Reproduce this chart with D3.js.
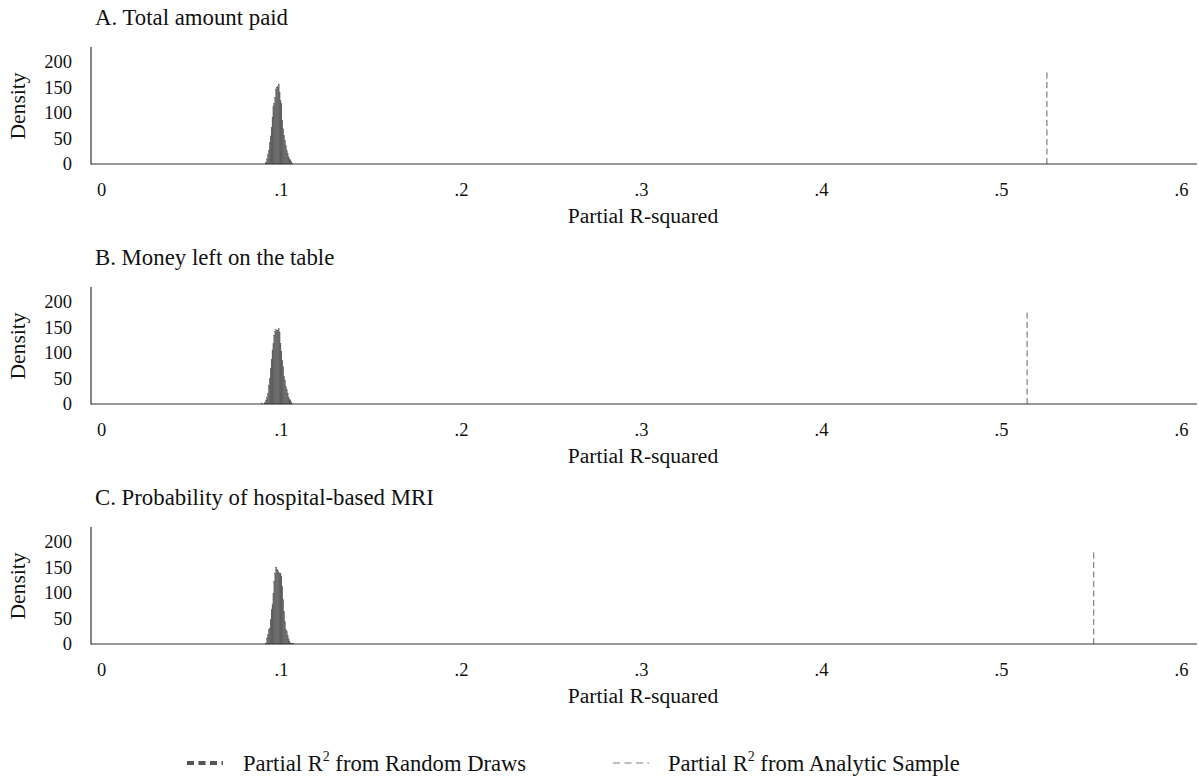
<!DOCTYPE html>
<html>
<head>
<meta charset="utf-8">
<script src="https://cdn.jsdelivr.net/npm/d3@7/dist/d3.min.js"></script>
<style>
  html, body { margin: 0; padding: 0; background: #fff; }
  svg { display: block; font-family: "Liberation Serif", "Times New Roman", serif; }
</style>
</head>
<body>
<svg id="chart" width="1199" height="779"></svg>
<script>
// ---------- data ----------
const panelTitles = ["A. Total amount paid", "B. Money left on the table", "C. Probability of hospital-based MRI"];
const binWidth = 0.0005;
const binStartA = 0.0915;
const binStartB = 0.0910;
const binStartC = 0.0915;
const densityA = [3,10,18,27,42,55,72,92,114,118,131,147,150,152,157,141,124,118,86,69,56,46,36,27,20,14,10,8,5,2];
const densityB = [3,8,13,21,37,50,70,88,106,119,135,142,146,144,145,148,140,119,103,86,73,54,47,34,29,21,13,9,8,4,1];
const densityC = [2,12,18,28,31,48,67,77,100,123,139,151,147,144,140,139,139,133,113,87,64,44,28,25,16,10,5,2,1,1,2];
const extraBinsB = [[0.0890, 2]];   // isolated small bin at left
const analyticR2 = [0.5255, 0.5145, 0.5515];
const analyticLineHeight = 184;
const xTicks = [0, 0.1, 0.2, 0.3, 0.4, 0.5, 0.6];
const yTicks = [0, 50, 100, 150, 200];
const legendLabels = ["Partial R", " from Random Draws", "Partial R", " from Analytic Sample"];

// ---------- layout ----------
const svg = d3.select("#chart");
const panelPitch = 240;
const x = d3.scaleLinear().domain([0, 0.6]).range([101, 1181]);
const yBase = d3.scaleLinear().domain([0, 200]).range([164, 62]);
const axisLeftX = 91, axisRightX = 1197, axisTopY = 47;
const serif = "Liberation Serif";

const panels = [
  {start: binStartA, dens: densityA, extra: []},
  {start: binStartB, dens: densityB, extra: extraBinsB},
  {start: binStartC, dens: densityC, extra: []}
];

panels.forEach((p, i) => {
  const g = svg.append("g").attr("transform", `translate(0,${i * panelPitch})`);
  const y = yBase;

  // title
  g.append("text").attr("x", 95).attr("y", 25).attr("font-family", serif)
    .attr("font-size", 22.8).attr("fill", "#111").text(panelTitles[i]);

  // bins
  const bins = p.dens.map((d, k) => ({x0: p.start + k * binWidth, d}))
    .concat(p.extra.map(e => ({x0: e[0], d: e[1]})));
  g.selectAll("rect.bar").data(bins).enter().append("rect")
    .attr("class", "bar")
    .attr("x", b => x(b.x0))
    .attr("width", b => x(b.x0 + binWidth) - x(b.x0))
    .attr("y", b => y(b.d))
    .attr("height", b => y(0) - y(b.d))
    .attr("fill", "#5a5a5a")
    .attr("stroke", "#5a5a5a").attr("stroke-width", 0.3);

  // analytic line
  g.append("line")
    .attr("x1", x(analyticR2[i])).attr("x2", x(analyticR2[i]))
    .attr("y1", y(0)).attr("y2", y(analyticLineHeight))
    .attr("stroke", "#7f7f7f").attr("stroke-width", 1.2)
    .attr("stroke-dasharray", "6,3.5");

  // axis lines
  g.append("line").attr("x1", axisLeftX).attr("x2", axisLeftX)
    .attr("y1", axisTopY).attr("y2", y(0) + 0.5)
    .attr("stroke", "#333").attr("stroke-width", 1.2);
  g.append("line").attr("x1", axisLeftX).attr("x2", axisRightX)
    .attr("y1", y(0)).attr("y2", y(0))
    .attr("stroke", "#333").attr("stroke-width", 1.2);

  // x axis ticks (labels only)
  const xa = g.append("g").attr("transform", `translate(0,${y(0) + 16})`)
    .call(d3.axisBottom(x).tickValues(xTicks).tickSize(0)
      .tickFormat(d => d === 0 ? "0" : d3.format(".1f")(d).replace(/^0/, "")));
  xa.attr("font-family", serif);
  xa.select(".domain").remove();
  xa.selectAll("text").attr("font-size", 18.5).attr("font-family", serif).attr("fill", "#111");

  // y axis ticks (labels only)
  const ya = g.append("g").attr("transform", `translate(${axisLeftX - 16},0)`)
    .call(d3.axisLeft(y).tickValues(yTicks).tickSize(0));
  ya.attr("font-family", serif);
  ya.select(".domain").remove();
  ya.selectAll("text").attr("font-size", 18.5).attr("font-family", serif).attr("fill", "#111");

  // axis titles
  g.append("text").attr("x", 643).attr("y", 223).attr("text-anchor", "middle").attr("font-family", serif)
    .attr("font-size", 21.6).attr("fill", "#111").text("Partial R-squared");
  g.append("text").attr("transform", "translate(25,106) rotate(-90)").attr("font-family", serif)
    .attr("text-anchor", "middle").attr("font-size", 21.6).attr("fill", "#111").text("Density");
});

// ---------- legend ----------
const lg = svg.append("g");
lg.append("line").attr("x1", 187).attr("x2", 223).attr("y1", 763).attr("y2", 763)
  .attr("stroke", "#555").attr("stroke-width", 4).attr("stroke-dasharray", "7,4.5");
lg.append("line").attr("x1", 613).attr("x2", 649).attr("y1", 763).attr("y2", 763)
  .attr("stroke", "#7f7f7f").attr("stroke-width", 1.2).attr("stroke-dasharray", "7,4.5");

function legendText(xp, a, b) {
  const t = lg.append("text").attr("x", xp).attr("y", 771).attr("font-family", serif)
    .attr("font-size", 22.6).attr("fill", "#111");
  t.append("tspan").text(a);
  t.append("tspan").attr("dy", -10).attr("font-size", 14).text("2");
  t.append("tspan").attr("dy", 10).text(b);
}
legendText(243, legendLabels[0], legendLabels[1]);
legendText(668, legendLabels[2], legendLabels[3]);
</script>
</body>
</html>
